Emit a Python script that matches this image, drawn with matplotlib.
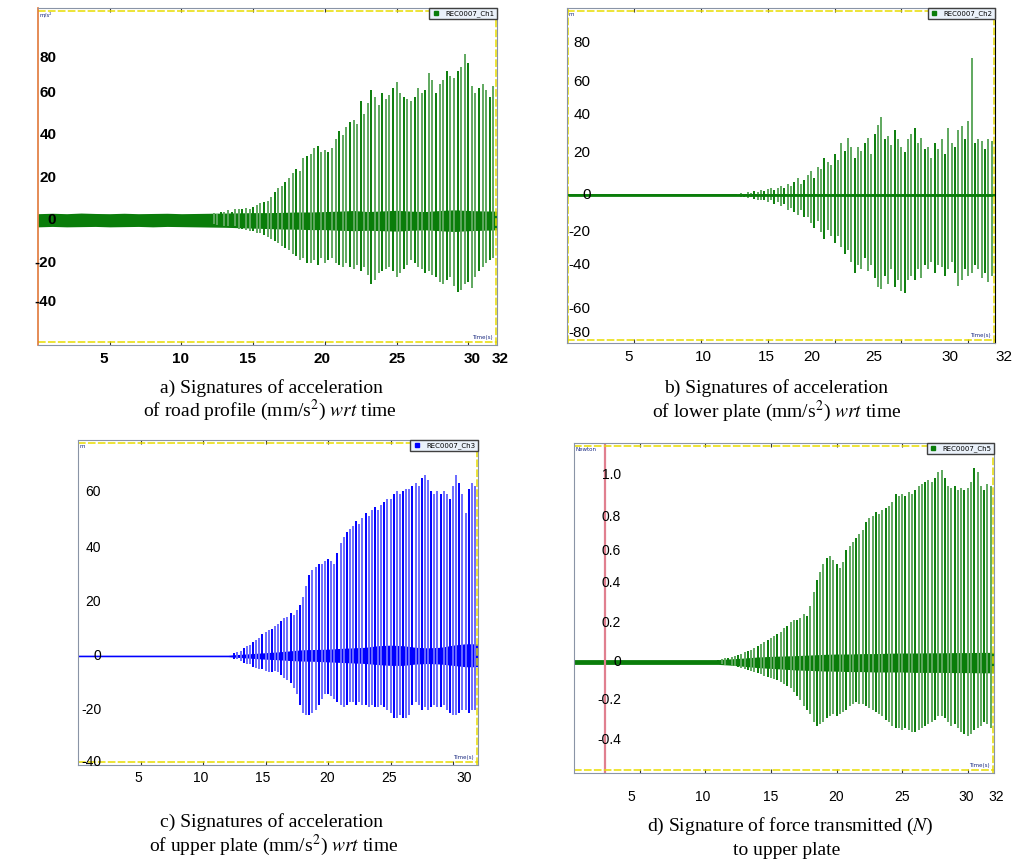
import numpy as np
import matplotlib.pyplot as plt
from matplotlib.lines import Line2D

plt.rcParams['mathtext.fontset'] = 'stix'

# ---- shared
band_t = list(range(33))          # seconds 0..32
step = 0.25                       # spike spacing (s)

# ---- a) road profile acceleration
a_start = 12.0
a_top = [3, 3.5, 3, 4, 4, 4.5, 4, 5, 5, 5, 5.5, 5, 6, 7, 8, 8.5,
         9, 11, 13, 15, 16, 18, 20, 22, 24, 23, 29, 30, 31, 34, 35, 32,
         33, 32, 34, 38, 42, 40, 44, 46, 47, 45, 56, 50, 55, 61, 58, 54,
         60, 57, 59, 62, 65, 60, 58, 57, 56, 58, 62, 60, 61, 69, 66, 60,
         64, 66, 70, 68, 67, 70, 72, 78, 74, 63, 60, 62, 64, 61, 58, 63]
a_bot = [-2, -2, -2.5, -2, -3, -3, -3.5, -3, -4, -4, -4.5, -5, -5, -6, -6, -7,
         -8, -9, -10, -11, -12, -13, -14, -16, -17, -19, -18, -20, -20, -19, -21, -18,
         -20, -19, -18, -20, -21, -22, -20, -22, -23, -21, -24, -22, -26, -30, -28, -25,
         -24, -23, -22, -24, -27, -25, -23, -21, -19, -20, -22, -23, -25, -24, -26, -27,
         -29, -30, -28, -27, -31, -34, -33, -30, -29, -32, -27, -24, -22, -20, -19, -18]
a_band_up = [3.0, 3.2, 3.0, 3.3, 3.1, 3.0, 3.2, 3.0, 3.1, 3.2, 3.0, 3.1, 3.2, 3.3, 3.4, 3.5, 3.5,
             3.6, 3.8, 3.8, 4.0, 4.2, 4.5, 4.0, 4.3, 4.6, 4.2, 4.0, 4.5, 4.8, 4.5, 4.3, 4.2]
a_band_lo = [3.2, 3.0, 3.2, 3.1, 3.0, 3.2, 3.1, 3.0, 3.2, 3.0, 3.1, 3.2, 3.3, 3.4, 3.6, 3.8, 4.0,
             4.2, 4.3, 4.5, 4.5, 4.8, 5.0, 4.8, 5.0, 5.2, 4.8, 4.6, 5.0, 5.4, 5.0, 4.8, 4.6]

# ---- b) lower plate acceleration
b_start = 12.5
b_top = [0.5, 0.5, 1, 0.5, 1.5, 1, 2, 1.5, 2.5, 2, 3, 4, 2.5, 4, 5, 4, 6, 5,
         7, 9, 6, 8, 11, 13, 9, 15, 14, 20, 18, 16, 22, 19, 28, 24, 31, 26, 20, 26,
         24, 28, 31, 22, 33, 38, 42, 30, 32, 27, 35, 30, 26, 23, 30, 33, 36, 28, 31, 25,
         26, 20, 28, 25, 30, 22, 36, 28, 26, 35, 37, 30, 40, 74, 28, 30, 29, 25, 30, 29]
b_bot = [-0.5, -0.5, -1, -1, -1.5, -1, -2, -3, -2.5, -3, -4, -3, -5, -4, -6, -5, -8, -7,
         -9, -11, -8, -12, -12, -15, -18, -14, -20, -24, -19, -22, -26, -22, -28, -32, -30, -36, -42, -38,
         -40, -34, -41, -38, -45, -50, -51, -44, -48, -40, -50, -46, -52, -53, -46, -44, -46, -40, -45, -38,
         -40, -36, -42, -38, -39, -44, -40, -36, -42, -49, -46, -40, -44, -42, -38, -40, -45, -42, -47, -44]

# ---- c) upper plate acceleration
c_start = 12.5
c_top = [1, 1.5, 2, 3, 3.5, 4, 5, 6, 6.5, 8, 9, 9.5, 10, 11, 12, 13, 14, 14.5,
         16, 15, 17, 19, 22, 26, 30, 32, 33, 34, 34, 35, 36, 35, 34, 38, 42, 44, 46, 47,
         48, 50, 49, 51, 53, 52, 54, 55, 54, 56, 57, 58, 58, 60, 61, 60, 61, 62, 62, 63,
         64, 63, 66, 67, 65, 61, 60, 61, 60, 61, 60, 58, 63, 67, 64, 60, 53, 62, 64, 63]
c_bot = [-1, -1, -2, -2.5, -3, -3, -4, -4.5, -5, -5, -5.5, -6, -6, -5.5, -6, -7, -8, -9,
         -10, -12, -14, -18, -21, -22, -22, -21, -20, -18, -16, -14, -14, -15, -16, -17, -18, -19, -18, -17,
         -17, -18, -17, -18, -18, -19, -18, -19, -19, -18, -19, -20, -21, -23, -23, -22, -23, -23, -22, -18,
         -17, -18, -20, -19, -20, -19, -18, -19, -19, -18, -20, -21, -22, -22, -21, -20, -20, -21, -20, -20]
c_band_up = [0.3] * 13 + [0.6, 0.9, 1.2, 1.5, 1.9, 2.3, 2.4, 2.5, 2.8, 3.0, 3.2, 3.8, 4.0, 3.8,
                          3.2, 3.0, 3.2, 4.0, 4.5, 4.5]
c_band_lo = [0.3] * 13 + [0.6, 0.9, 1.2, 1.4, 1.7, 1.9, 2.0, 2.2, 2.4, 2.6, 2.8, 3.2, 3.5, 3.5,
                          3.0, 2.8, 3.0, 3.5, 4.0, 4.0]

# ---- d) transmitted force
d_start = 11.0
d_top = [0.01, 0.015, 0.02, 0.02, 0.025, 0.03, 0.035, 0.04, 0.05, 0.055, 0.06, 0.07,
         0.08, 0.09, 0.1, 0.11, 0.12, 0.13, 0.14, 0.15, 0.17, 0.18, 0.2, 0.21,
         0.21, 0.22, 0.24, 0.23, 0.28, 0.35, 0.41, 0.45, 0.49, 0.52, 0.53, 0.51,
         0.49, 0.47, 0.5, 0.56, 0.58, 0.6, 0.62, 0.64, 0.66, 0.7, 0.72, 0.73,
         0.75, 0.74, 0.76, 0.77, 0.78, 0.8, 0.84, 0.83, 0.84, 0.83, 0.85, 0.84,
         0.86, 0.88, 0.89, 0.9, 0.91, 0.9, 0.92, 0.95, 0.96, 0.92, 0.88, 0.87,
         0.88, 0.86, 0.87, 0.86, 0.87, 0.9, 0.97, 0.95, 0.88, 0.86, 0.89, 0.88]
d_bot = [-0.01, -0.01, -0.015, -0.015, -0.02, -0.02, -0.025, -0.03, -0.035, -0.04, -0.045, -0.05,
         -0.055, -0.06, -0.07, -0.075, -0.08, -0.085, -0.09, -0.1, -0.11, -0.12, -0.13, -0.15,
         -0.17, -0.19, -0.22, -0.24, -0.26, -0.3, -0.32, -0.31, -0.3, -0.28, -0.27, -0.26,
         -0.27, -0.26, -0.25, -0.24, -0.22, -0.21, -0.2, -0.21, -0.21, -0.22, -0.23, -0.24,
         -0.25, -0.26, -0.27, -0.29, -0.3, -0.32, -0.33, -0.33, -0.34, -0.33, -0.34, -0.35,
         -0.35, -0.34, -0.33, -0.32, -0.31, -0.3, -0.29, -0.27, -0.27, -0.28, -0.3, -0.32,
         -0.31, -0.33, -0.35, -0.36, -0.37, -0.36, -0.34, -0.33, -0.32, -0.3, -0.31, -0.33]
d_band_up = [0.012] * 12 + [0.016, 0.02, 0.025, 0.028, 0.03, 0.032, 0.035, 0.038, 0.04, 0.04, 0.042,
                            0.042, 0.044, 0.045, 0.045, 0.046, 0.046, 0.047, 0.047, 0.048, 0.048]
d_band_lo = [0.012] * 12 + [0.016, 0.022, 0.028, 0.032, 0.036, 0.04, 0.042, 0.045, 0.046, 0.048, 0.048,
                            0.05, 0.05, 0.05, 0.052, 0.052, 0.052, 0.053, 0.053, 0.054, 0.054]
d_cursor = 2.36

# ---- tick labels (value, position) as placed in the figure
a_xlab = [5, 10, 15, 20, 25, 30, 32]; a_xpos = [4.6, 9.9, 14.6, 19.8, 25.0, 30.3, 32.2]
a_ylab = [80, 60, 40, 20, 0, -20, -40]; a_ypos = [76.2, 59.8, 40, 19.8, 0, -20.2, -38.6]
b_xlab = [5, 10, 15, 20, 25, 30, 32]; b_xpos = [4.6, 10.2, 14.9, 18.3, 22.9, 28.6, 32.7]
b_ylab = [80, 60, 40, 20, 0, -20, -40, -60, -80]
b_ypos = [82.2, 61.1, 43.2, 22.7, 0, -20, -37.8, -61.6, -74.6]
c_xlab = [5, 10, 15, 20, 25, 30]; c_xpos = [4.8, 9.8, 14.8, 19.9, 24.9, 30.9]
c_ylab = [60, 40, 20, 0, -20, -40]; c_ypos = [60.7, 40, 20, 0, -20, -39.3]
d_xlab = [5, 10, 15, 20, 25, 30, 32]; d_xpos = [4.4, 9.8, 15.0, 20.0, 25.0, 29.9, 32.2]
d_ylab = ['1.0', '0.8', '0.6', '0.4', '0.2', '0', '-0.2', '-0.4']
d_ypos = [0.935, 0.725, 0.555, 0.395, 0.195, 0, -0.19, -0.39]

GREEN = '#0a7d0a'
GREEN_L = '#5fa85f'
BLUE = '#0000ff'
BLUE_L = '#6a6aff'
YEL = '#e8dc00'

fig = plt.figure(figsize=(10.25, 8.63), dpi=100)
W, H = 1025, 863


def make_axes(l, t, r, b):
    return fig.add_axes([l / W, 1 - b / H, (r - l) / W, (b - t) / H])


def draw_signal(ax, start, top, bot, band_up, band_lo, dark, light):
    t = start + step * np.arange(len(top))
    cols = [dark if i % 3 == 0 else light for i in range(len(top))]
    ax.vlines(t, bot, top, colors=cols, lw=1.4)
    ax.fill_between(band_t, -np.array(band_lo), band_up, color=dark, lw=0)


def decorate(ax, ylim, legend, unit, color, ylab, ypos, xlab, xpos, xoff, yright,
             bold=False, fs=11):
    ax.set_xlim(0, 32)
    ax.set_ylim(*ylim)
    ax.set_xticks([5, 10, 15, 20, 25, 30])
    ax.set_yticks([])
    ax.tick_params(axis='x', direction='in', length=3, top=True, bottom=True,
                   labelbottom=False, color='#333333')
    for s in ax.spines.values():
        s.set_color('#8a94a6')
        s.set_linewidth(0.8)
    for yy in (0.992, 0.008):
        ax.plot([0, 1], [yy, yy], transform=ax.transAxes, color=YEL,
                ls=(0, (5, 1.5)), lw=1.1, clip_on=False)
    ax.plot([0.998, 0.998], [0, 1], transform=ax.transAxes, color=YEL,
            ls=(0, (5, 1.5)), lw=1.1, clip_on=False)
    h = Line2D([], [], marker='s', ls='none', color=color, markersize=3)
    ax.legend([h], [legend], loc='upper right', fontsize=5, borderaxespad=0.05,
              handlelength=1.2, fancybox=False, edgecolor='#404040',
              facecolor='#eaf1fa', framealpha=1, borderpad=0.3)
    ax.text(0.004, 0.988, unit, transform=ax.transAxes, fontsize=4,
            color='#1a2a80', ha='left', va='top')
    ax.text(0.99, 0.015, 'Time(s)', transform=ax.transAxes, fontsize=4,
            color='#1a2a80', ha='right', va='bottom')
    wt = 'bold' if bold else 'normal'
    for lab, p in zip(ylab, ypos):
        ax.text(yright, p, str(lab), transform=ax.get_yaxis_transform(),
                ha='right', va='center', fontsize=fs, fontweight=wt,
                family='Liberation Sans')
    for lab, p in zip(xlab, xpos):
        ax.annotate(str(lab), (p, 0), xycoords=ax.get_xaxis_transform(),
                    xytext=(0, -xoff * 0.72), textcoords='offset points',
                    ha='center', va='center', fontsize=fs, fontweight=wt,
                    family='Liberation Sans', annotation_clip=False)


# a
ax = make_axes(38, 8, 497, 345)
draw_signal(ax, a_start, a_top, a_bot, a_band_up, a_band_lo, GREEN, GREEN_L)
decorate(ax, (-58.8, 99.8), 'REC0007_Ch1', 'm/s²', GREEN, a_ylab, a_ypos,
         a_xlab, a_xpos, 14, 0.04, bold=True, fs=11)
ax.spines['left'].set_color('#e0783a')
ax.spines['left'].set_linewidth(1.2)

# b
ax = make_axes(567, 8, 995, 343)
draw_signal(ax, b_start, b_top, b_bot, [0.4] * 33, [0.4] * 33, GREEN, GREEN_L)
ax.axhline(0, color=GREEN, lw=2)
decorate(ax, (-80, 101), 'REC0007_Ch2', 'm', GREEN, b_ylab, b_ypos,
         b_xlab, b_xpos, 14, 0.055, fs=11)
ax.plot([0.003, 0.003], [0, 1], transform=ax.transAxes, color=YEL,
        ls=(0, (5, 1.5)), lw=1.1)
ax.spines['right'].set_color('black')

# c
ax = make_axes(78, 440, 478, 765)
draw_signal(ax, c_start, c_top, c_bot, c_band_up, c_band_lo, BLUE, BLUE_L)
decorate(ax, (-40.4, 80), 'REC0007_Ch3', 'm', BLUE, c_ylab, c_ypos,
         c_xlab, c_xpos, 13, 0.058, fs=10)

# d
ax = make_axes(574, 443, 994, 773)
draw_signal(ax, d_start, d_top, d_bot, d_band_up, d_band_lo, GREEN, GREEN_L)
ax.axvline(d_cursor, color='#e07f8f', lw=1.6)
decorate(ax, (-0.555, 1.095), 'REC0007_Ch5', 'Newton', GREEN, d_ylab, d_ypos,
         d_xlab, d_xpos, 24, 0.112, fs=10)

# captions
cap = dict(ha='center', va='center', fontsize=14, family='Liberation Serif')
fig.text(271 / W, 1 - 388 / H, 'a) Signatures of acceleration', **cap)
fig.text(270 / W, 1 - 410 / H, 'of road profile (mm/s$^2$) $wrt$ time', **cap)
fig.text(776 / W, 1 - 388 / H, 'b) Signatures of acceleration', **cap)
fig.text(777 / W, 1 - 411 / H, 'of lower plate (mm/s$^2$) $wrt$ time', **cap)
fig.text(271 / W, 1 - 822 / H, 'c) Signatures of acceleration', **cap)
fig.text(274 / W, 1 - 845 / H, 'of upper plate (mm/s$^2$) $wrt$ time', **cap)
fig.text(790 / W, 1 - 826 / H, 'd) Signature of force transmitted ($N$)', **cap)
fig.text(787 / W, 1 - 850 / H, 'to upper plate', **cap)

fig.savefig('out.png', dpi=100)
